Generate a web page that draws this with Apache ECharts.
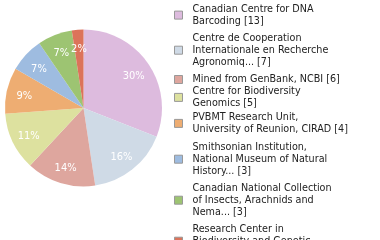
<!DOCTYPE html>
<html>
<head>
<meta charset="utf-8">
<script src="https://cdn.jsdelivr.net/npm/echarts@6/dist/echarts.min.js"></script>
<style>
html,body{margin:0;padding:0;background:#fff;}
#c{width:380px;height:240px;}
</style>
</head>
<body>
<div id="c"></div>
<script>
const names = [
  "Canadian Centre for DNA\nBarcoding [13]",
  "Centre de Cooperation\nInternationale en Recherche\nAgronomiq... [7]",
  "Mined from GenBank, NCBI [6]",
  "Centre for Biodiversity\nGenomics [5]",
  "PVBMT Research Unit,\nUniversity of Reunion, CIRAD [4]",
  "Smithsonian Institution,\nNational Museum of Natural\nHistory... [3]",
  "Canadian National Collection\nof Insects, Arachnids and\nNema... [3]",
  "Research Center in\nBiodiversity and Genetic\nResources... [1]"
];
const values = [13, 7, 6, 5, 4, 3, 3, 1];
const colors = ["#ddbbde", "#cfdae6", "#dea69e", "#dde19f", "#eead72", "#9ebce0", "#9dc472", "#dc735a"];

// legend layout (first-line centre of each entry)
const legendLineCenters = [9, 38, 79.5, 91.3, 117.3, 147, 188, 229];
const LH = 12.2;
const FONT = "'DejaVu Sans Condensed', 'DejaVu Sans', sans-serif";

const total = values.reduce((a, b) => a + b, 0);
const data = names.map((n, i) => ({ name: n, value: values[i], itemStyle: { color: colors[i] } }));

const legends = names.map((n, i) => ({
  data: [n],
  orient: 'vertical',
  left: 174,
  top: legendLineCenters[i] - LH / 2,
  padding: 0,
  itemWidth: 8,
  itemHeight: 8,
  icon: 'rect',
  selectedMode: false,
  itemStyle: { borderColor: '#999', borderWidth: 1 },
  textStyle: { fontFamily: FONT, fontSize: 10.7, color: '#222', lineHeight: LH, padding: [0, 0, 0, 5] }
}));

const chart = echarts.init(document.getElementById('c'), null, { renderer: 'canvas' });
chart.setOption({
  animation: false,
  legend: legends,
  series: [
    {
      type: 'pie',
      center: [83.5, 108],
      radius: [0, 78.5],
      startAngle: 90,
      clockwise: true,
      data: data,
      label: { show: false },
      labelLine: { show: false },
      itemStyle: { borderWidth: 0 },
      emphasis: { disabled: true }
    },
    {
      type: 'pie',
      center: [83.5, 108],
      radius: [37, 78.5],
      startAngle: 90,
      clockwise: true,
      silent: true,
      data: data.map(d => ({ name: d.name, value: d.value })),
      itemStyle: { color: 'rgba(0,0,0,0)', borderWidth: 0 },
      label: {
        show: true,
        position: 'inside',
        color: '#fff',
        fontFamily: FONT,
        fontSize: 11,
        offset: [0, 2],
        formatter: p => Math.floor(p.value / total * 100) + '%'
      },
      labelLine: { show: false },
      emphasis: { disabled: true }
    }
  ]
});
</script>
</body>
</html>
